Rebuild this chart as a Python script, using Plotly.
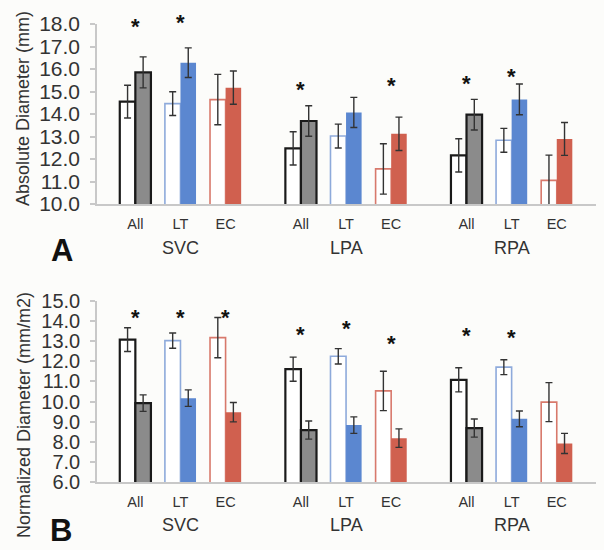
import plotly.graph_objects as go

vessels = ["SVC", "LPA", "RPA"]
subgroups = ["All", "LT", "EC"]

# Panel A: absolute diameter (mm), order: SVC(All,LT,EC), LPA(...), RPA(...)
abs_open = [14.55, 14.46, 14.64, 12.47, 13.02, 11.56, 12.16, 12.83, 11.05]
abs_open_err = [0.73, 0.53, 1.12, 0.74, 0.53, 1.12, 0.74, 0.53, 1.12]
abs_filled = [15.85, 16.28, 15.17, 13.69, 14.07, 13.12, 13.97, 14.65, 12.89]
abs_filled_err = [0.69, 0.66, 0.74, 0.68, 0.67, 0.74, 0.68, 0.68, 0.73]
abs_star = [18.1, 18.3, None, 15.33, None, 15.47, 15.56, 15.9, None]

# Panel B: normalized diameter (mm/m2)
norm_open = [13.08, 13.03, 13.18, 11.61, 12.25, 10.53, 11.08, 11.71, 9.97]
norm_open_err = [0.59, 0.38, 1.0, 0.6, 0.38, 0.98, 0.6, 0.37, 0.97]
norm_filled = [9.92, 10.17, 9.47, 8.58, 8.83, 8.18, 8.68, 9.14, 7.92]
norm_filled_err = [0.41, 0.41, 0.48, 0.45, 0.41, 0.46, 0.45, 0.39, 0.5]
norm_star = [14.42, 14.42, 14.42, 13.59, 13.89, 13.15, 13.51, 13.42, None]

abs_ticks = [10.0, 11.0, 12.0, 13.0, 14.0, 15.0, 16.0, 17.0, 18.0]
norm_ticks = [6.0, 7.0, 8.0, 9.0, 10.0, 11.0, 12.0, 13.0, 14.0, 15.0]

# styles
FONT = "Liberation Sans, Arial, sans-serif"
TXT = "#333333"
BG = "#fcfcfa"
open_line_col = {"All": "#1a1a1a", "LT": "#8eaadb", "EC": "#d8796c"}
open_line_w = {"All": 2.2, "LT": 1.6, "EC": 1.6}
fill_col = {"All": "#8b8b8b", "LT": "#5b87d0", "EC": "#d0604f"}
fill_line_col = {"All": "#1a1a1a", "LT": "#5b87d0", "EC": "#d0604f"}
fill_line_w = {"All": 2.2, "LT": 0, "EC": 0}

GROUP_STEP = 3.67
BW = 0.345

xs, xt, sub_of = [], [], []
for g, v in enumerate(vessels):
    for s, sg in enumerate(subgroups):
        xs.append(g * GROUP_STEP + s)
        xt.append(sg)
        sub_of.append(sg)

fig = go.Figure()
err_style = dict(type="data", color="#333333", thickness=1.4, width=3.5, visible=True)

panels = [
    ("x", "y", abs_open, abs_open_err, abs_filled, abs_filled_err, abs_star, [10, 18]),
    ("x2", "y2", norm_open, norm_open_err, norm_filled, norm_filled_err, norm_star, [6, 15]),
]
for xa, ya, op, ope, fi, fie, st, rng in panels:
    fig.add_trace(go.Bar(
        x=xs, y=op, xaxis=xa, yaxis=ya, offset=-BW, width=BW,
        marker=dict(color="white",
                    line=dict(color=[open_line_col[s] for s in sub_of],
                              width=[open_line_w[s] for s in sub_of])),
        error_y=dict(array=ope, **err_style), showlegend=False, hoverinfo="skip",
    ))
    fig.add_trace(go.Bar(
        x=xs, y=fi, xaxis=xa, yaxis=ya, offset=0, width=BW,
        marker=dict(color=[fill_col[s] for s in sub_of],
                    line=dict(color=[fill_line_col[s] for s in sub_of],
                              width=[fill_line_w[s] for s in sub_of])),
        error_y=dict(array=fie, **err_style), showlegend=False, hoverinfo="skip",
    ))
    for x, h in zip(xs, st):
        if h is not None:
            fig.add_annotation(x=x, y=(h - rng[0]) / (rng[1] - rng[0]),
                               xref=xa, yref=ya + " domain", text="<b>*</b>", showarrow=False,
                               xanchor="center", yanchor="middle",
                               font=dict(family=FONT, size=22, color="#111111"),
                               yshift=-5)
    for g, v in enumerate(vessels):
        fig.add_annotation(x=g * GROUP_STEP + 1, y=0, xref=xa, yref=ya + " domain",
                           text=v, showarrow=False, xanchor="center", yanchor="middle",
                           yshift=-44 if xa == "x" else -43,
                           font=dict(family=FONT, size=18, color=TXT))

xr = [-0.85, 2 * GROUP_STEP + 2 + 0.87]
xcommon = dict(range=xr, tickvals=xs, ticktext=xt, showgrid=False, zeroline=False,
               showline=True, linecolor="#c8c8c8", linewidth=1.5, ticks="",
               automargin=False,
               tickfont=dict(family=FONT, size=14.5, color=TXT), ticklabelstandoff=6)
ycommon = dict(showgrid=False, zeroline=False, showline=True, linecolor="#c8c8c8",
               linewidth=1.5, ticks="outside", ticklen=5, tickcolor="#c8c8c8",
               tickwidth=1.5, tickformat=".1f", automargin=False, ticklabelstandoff=6)

W, H = 604, 550
fig.update_layout(
    width=W, height=H, margin=dict(l=0, r=0, t=0, b=0, pad=0),
    paper_bgcolor=BG, plot_bgcolor=BG, barmode="overlay",
    xaxis=dict(domain=[97 / W, 596 / W], anchor="y", **xcommon),
    xaxis2=dict(domain=[97 / W, 596 / W], anchor="y2", **xcommon),
    yaxis=dict(domain=[(H - 204) / H, (H - 24) / H], range=[10, 18], tickvals=abs_ticks,
               anchor="x", tickfont=dict(family=FONT, size=21, color=TXT), **ycommon),
    yaxis2=dict(domain=[(H - 482) / H, (H - 301) / H], range=[6, 15], tickvals=norm_ticks,
                anchor="x2", tickfont=dict(family=FONT, size=20, color=TXT), **ycommon),
)

for txt, cx, cy in [("Absolute Diameter (mm)", 23, 109),
                    ("Normalized Diameter (mm/m2)", 24, 415)]:
    fig.add_annotation(x=cx / W, y=1 - cy / H, xref="paper", yref="paper",
                       xanchor="center", yanchor="middle",
                       text=txt, textangle=-90, showarrow=False,
                       font=dict(family=FONT, size=18, color=TXT))
for txt, cx, cy in [("<b>A</b>", 62, 250), ("<b>B</b>", 61, 530)]:
    fig.add_annotation(x=cx / W, y=1 - cy / H, xref="paper", yref="paper",
                       xanchor="center", yanchor="middle",
                       text=txt, showarrow=False,
                       font=dict(family=FONT, size=31, color="#111111"))

fig.write_html("out.html",
               config={"displayModeBar": False},
               post_script="document.body.style.margin='0';"
                           "document.body.style.overflow='hidden';"
                           f"document.body.style.background='{BG}';")
